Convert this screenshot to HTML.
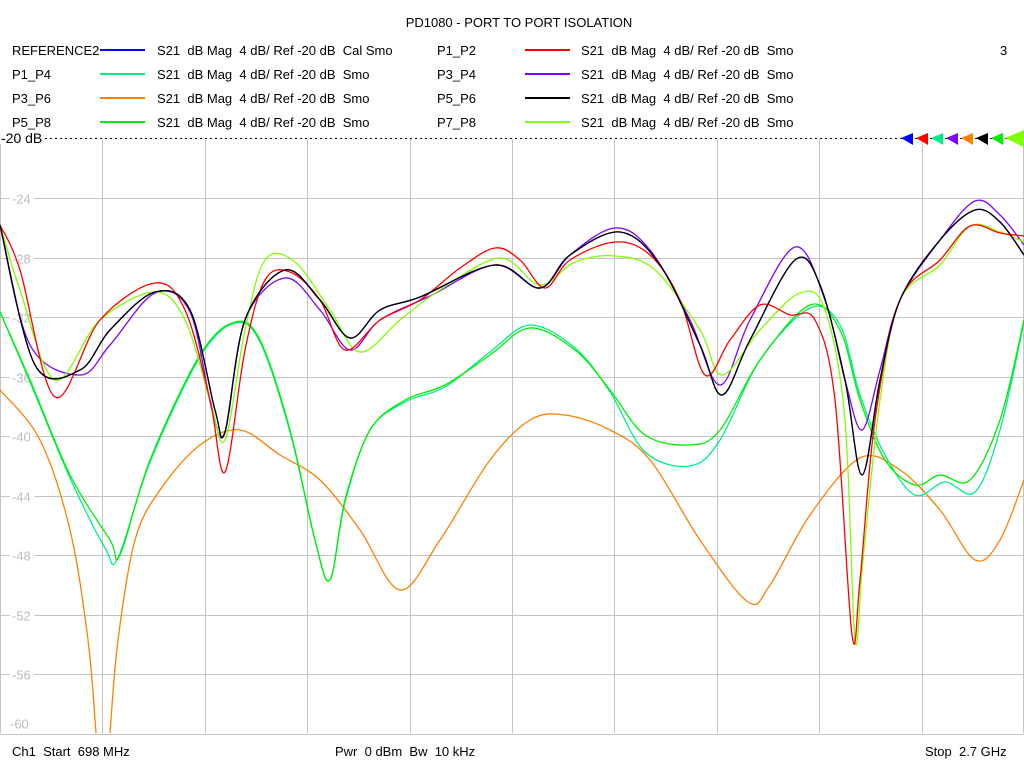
<!DOCTYPE html>
<html><head><meta charset="utf-8"><style>
body{margin:0;width:1024px;height:768px;background:#fff;overflow:hidden;font-family:"Liberation Sans",sans-serif;}
svg{position:absolute;left:0;top:0}
text{white-space:pre}
</style></head><body>
<svg width="1024" height="768" xmlns="http://www.w3.org/2000/svg" font-family="Liberation Sans, sans-serif" xml:space="preserve">
<g id="grid" stroke="#c4c4c4" stroke-width="1"></g>
<g id="ylab" fill="#bdbdbd" font-size="13"></g>
<line x1="0" y1="138.5" x2="1024" y2="138.5" stroke="#000" stroke-dasharray="2,3"/>
<g id="traces" fill="none" stroke-width="1.3" stroke-linejoin="round"></g>
<rect x="0" y="128" width="44" height="16" fill="#fff"/>
<text x="1" y="143" font-size="14">-20 dB</text>
<g font-size="13" fill="#000">
<text x="519" y="27" text-anchor="middle">PD1080 - PORT TO PORT ISOLATION</text>
<text x="12" y="55">REFERENCE2</text><text x="157" y="55">S21  dB Mag  4 dB/ Ref -20 dB  Cal Smo</text>
<text x="437" y="55">P1_P2</text><text x="581" y="55">S21  dB Mag  4 dB/ Ref -20 dB  Smo</text>
<text x="1000" y="55">3</text>
<text x="12" y="79">P1_P4</text><text x="157" y="79">S21  dB Mag  4 dB/ Ref -20 dB  Smo</text>
<text x="437" y="79">P3_P4</text><text x="581" y="79">S21  dB Mag  4 dB/ Ref -20 dB  Smo</text>
<text x="12" y="103">P3_P6</text><text x="157" y="103">S21  dB Mag  4 dB/ Ref -20 dB  Smo</text>
<text x="437" y="103">P5_P6</text><text x="581" y="103">S21  dB Mag  4 dB/ Ref -20 dB  Smo</text>
<text x="12" y="127">P5_P8</text><text x="157" y="127">S21  dB Mag  4 dB/ Ref -20 dB  Smo</text>
<text x="437" y="127">P7_P8</text><text x="581" y="127">S21  dB Mag  4 dB/ Ref -20 dB  Smo</text>
<text x="12" y="756">Ch1  Start  698 MHz</text>
<text x="335" y="756">Pwr  0 dBm  Bw  10 kHz</text>
<text x="925" y="756">Stop  2.7 GHz</text>
</g>
<g stroke-width="2">
<line x1="100" y1="50" x2="145" y2="50" stroke="#0000ff"/>
<line x1="525" y1="50" x2="570" y2="50" stroke="#ff0000"/>
<line x1="100" y1="74" x2="145" y2="74" stroke="#00ee88"/>
<line x1="525" y1="74" x2="570" y2="74" stroke="#8000ff"/>
<line x1="100" y1="98" x2="145" y2="98" stroke="#ff7f00"/>
<line x1="525" y1="98" x2="570" y2="98" stroke="#000"/>
<line x1="100" y1="122" x2="145" y2="122" stroke="#00ee00"/>
<line x1="525" y1="122" x2="570" y2="122" stroke="#80ff00"/>
</g>
<g id="marks"></g>
</svg>
<script>
var NS="http://www.w3.org/2000/svg";
function el(p,t,a){var e=document.createElementNS(NS,t);for(var k in a)e.setAttribute(k,a[k]);p.appendChild(e);return e;}
var g=document.getElementById('grid'),yl=document.getElementById('ylab');
for(var i=1;i<10;i++){var x=Math.round(i*102.4)+0.5;el(g,'line',{x1:x,y1:139,x2:x,y2:733});}
el(g,'line',{x1:1023.5,y1:139,x2:1023.5,y2:733});
el(g,'line',{x1:0.5,y1:139,x2:0.5,y2:733});
for(var j=1;j<=10;j++){var y=Math.round(138.5+j*59.5)+0.5;el(g,'line',{x1:0,y1:y,x2:1024,y2:y});
 if(j<10){var r=el(yl,'rect',{x:10,y:y-8,width:24,height:15,fill:'#fff'});var t=el(yl,'text',{x:12,y:y+5});t.textContent='-'+(20+4*j);}
 else{var t=el(yl,'text',{x:10,y:y-6});t.textContent='-60';}}
function path(pts){var d='M'+pts[0][0]+','+pts[0][1];for(var i=0;i<pts.length-1;i++){var p0=pts[i-1]||pts[i],p1=pts[i],p2=pts[i+1],p3=pts[i+2]||p2;
 d+=' C'+(p1[0]+(p2[0]-p0[0])/6)+','+(p1[1]+(p2[1]-p0[1])/6)+' '+(p2[0]-(p3[0]-p1[0])/6)+','+(p2[1]-(p3[1]-p1[1])/6)+' '+p2[0]+','+p2[1];}return d;}
var T=[
['#ff7f00',[[0,390],[40,440],[70,530],[88,640],[96,733]],],
['#ff7f00',[[110,733],[118,640],[135,540],[160,490],[200,445],[240,430],[280,455],[320,480],[360,530],[400,590],[440,540],[490,460],[530,420],[565,415],[610,430],[650,460],[700,540],[748,602],[770,585],[810,515],[860,458],[900,470],[940,510],[975,560],[1000,540],[1024,480]]],
['#00ee88',[[0,312],[30,382],[70,478],[105,548],[118,558],[150,462],[200,357],[235,323],[260,342],[290,432],[315,540],[330,580],[345,502],[370,430],[405,402],[445,387],[490,352],[530,325],[575,348],[610,392],[645,452],[690,466],[720,440],[760,360],[810,308],[840,325],[860,395],[885,455],[915,495],[945,482],[975,492],[1000,430],[1024,322]]],
['#00ee00',[[0,312],[30,380],[70,475],[110,540],[120,555],[150,460],[200,355],[235,322],[260,340],[290,430],[315,540],[330,580],[345,500],[370,430],[405,400],[445,385],[490,355],[530,328],[575,350],[610,390],[645,435],[690,445],[720,430],[760,360],[810,305],[840,330],[860,400],[885,460],[915,485],[940,475],[970,480],[1000,420],[1024,320]]],
['#0000ff',[[0,225],[35,365],[80,370],[110,330],[155,292],[190,310],[215,410],[225,432],[245,320],[285,270],[320,300],[350,338],[380,310],[420,297],[495,265],[540,288],[570,255],[620,232],[660,265],[700,345],[722,395],[750,340],[795,260],[820,285],[845,380],[862,475],[880,380],[900,300],[940,240],[975,210],[1000,222],[1024,255]]],
['#8000ff',[[0,225],[30,345],[80,375],[110,345],[155,293],[190,312],[212,410],[225,432],[245,320],[285,278],[320,310],[350,350],[380,320],[430,296],[495,265],[540,288],[570,255],[615,228],[650,250],[690,320],[720,385],[750,320],[795,247],[825,300],[845,380],[862,430],[880,370],[900,300],[940,240],[975,201],[1000,215],[1024,245]]],
['#80ff00',[[0,225],[20,290],[55,380],[100,320],[155,292],[185,320],[210,400],[225,440],[245,330],[265,260],[295,262],[330,310],[360,352],[400,320],[440,290],[500,258],[540,285],[575,262],[615,256],[655,270],[700,330],[722,375],[760,330],[800,293],[825,310],[845,420],[855,640],[863,560],[880,400],[900,300],[940,265],[970,226],[1000,232],[1024,242]]],
['#ff0000',[[0,225],[20,270],[55,397],[100,320],[155,283],[185,310],[210,400],[225,472],[245,350],[265,280],[290,272],[320,300],[345,350],[380,320],[420,300],[460,268],[495,248],[520,260],[545,288],[570,260],[615,242],[650,255],[680,300],[705,375],[730,340],[760,305],[790,315],[815,320],[835,400],[852,635],[860,580],[875,420],[900,300],[940,260],[970,226],[1000,233],[1024,236]]],
['#000000',[[0,225],[35,365],[80,370],[110,330],[155,292],[190,310],[215,410],[225,432],[245,320],[285,270],[320,300],[350,338],[380,310],[420,297],[495,265],[540,288],[570,255],[620,232],[660,265],[700,345],[722,395],[750,340],[795,260],[820,285],[845,380],[862,475],[880,380],[900,300],[940,240],[975,210],[1000,222],[1024,255]]]
];
var tr=document.getElementById('traces');
T.forEach(function(s){el(tr,'path',{d:path(s[1]),stroke:s[0]});});
var mk=document.getElementById('marks');
var mc=[['#0000ff',901],['#ff0000',916],['#00ee88',931],['#8000ff',946],['#ff7f00',961],['#000',976],['#00ee00',991]];
mc.forEach(function(m){el(mk,'polygon',{points:(m[1]+12)+',133 '+m[1]+',138 '+(m[1]+12)+',145',fill:m[0]});});
el(mk,'polygon',{points:'1024,130 1005,138 1024,147',fill:'#80ff00'});
</script>
</body></html>
